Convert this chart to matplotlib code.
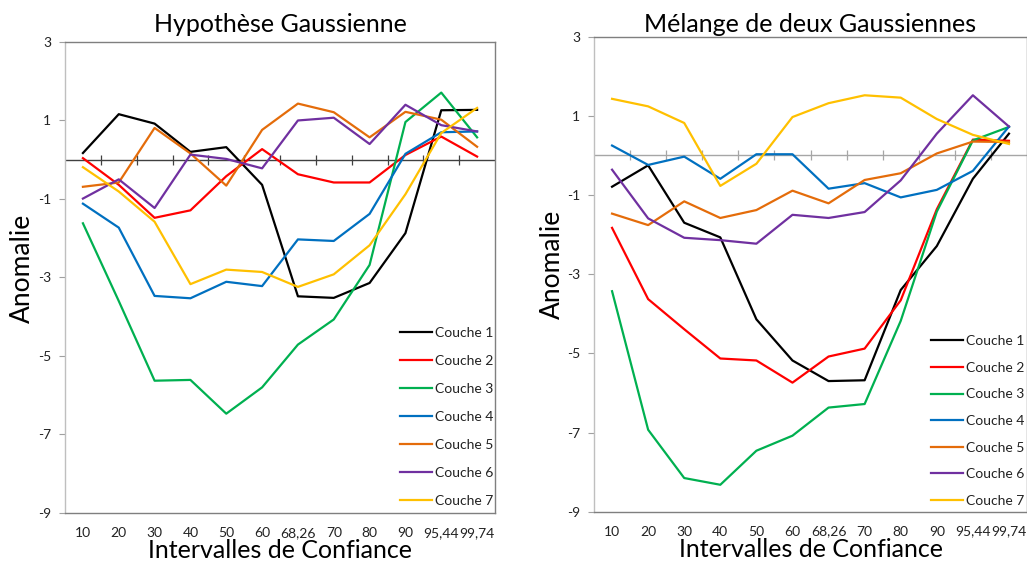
import matplotlib.pyplot as plt

# Confidence interval categories (x axis)
intervals = ["10", "20", "30", "40", "50", "60", "68,26", "70", "80", "90", "95,44", "99,74"]
layers = ["Couche 1", "Couche 2", "Couche 3", "Couche 4", "Couche 5", "Couche 6", "Couche 7"]
colors = ["#000000", "#FF0000", "#00B050", "#0070C0", "#E46C0A", "#7030A0", "#FFC000"]

# Anomaly per layer - gaussian hypothesis
gauss_c1 = [0.17, 1.16, 0.92, 0.20, 0.32, -0.64, -3.48, -3.52, -3.14, -1.87, 1.26, 1.27]
gauss_c2 = [0.04, -0.64, -1.48, -1.29, -0.42, 0.27, -0.37, -0.58, -0.58, 0.12, 0.59, 0.08]
gauss_c3 = [-1.62, -3.60, -5.63, -5.61, -6.47, -5.80, -4.71, -4.07, -2.68, 0.96, 1.71, 0.57]
gauss_c4 = [-1.12, -1.73, -3.47, -3.53, -3.11, -3.22, -2.03, -2.07, -1.38, 0.15, 0.70, 0.72]
gauss_c5 = [-0.69, -0.58, 0.81, 0.16, -0.66, 0.76, 1.43, 1.21, 0.57, 1.22, 1.02, 0.33]
gauss_c6 = [-0.99, -0.50, -1.23, 0.13, 0.02, -0.22, 1.00, 1.07, 0.40, 1.40, 0.88, 0.72]
gauss_c7 = [-0.19, -0.81, -1.58, -3.17, -2.80, -2.86, -3.24, -2.92, -2.18, -0.88, 0.68, 1.32]

# Anomaly per layer - mixture of two gaussians
mix_c1 = [-0.79, -0.25, -1.70, -2.07, -4.14, -5.18, -5.70, -5.68, -3.40, -2.29, -0.59, 0.55]
mix_c2 = [-1.83, -3.63, -4.39, -5.13, -5.18, -5.74, -5.08, -4.88, -3.66, -1.36, 0.40, 0.37]
mix_c3 = [-3.43, -6.93, -8.15, -8.32, -7.46, -7.08, -6.37, -6.28, -4.18, -1.42, 0.38, 0.72]
mix_c4 = [0.25, -0.24, -0.03, -0.59, 0.03, 0.03, -0.84, -0.70, -1.06, -0.87, -0.39, 0.73]
mix_c5 = [-1.47, -1.76, -1.16, -1.58, -1.38, -0.89, -1.21, -0.62, -0.45, 0.05, 0.35, 0.34]
mix_c6 = [-0.36, -1.59, -2.08, -2.14, -2.23, -1.50, -1.58, -1.43, -0.63, 0.55, 1.52, 0.73]
mix_c7 = [1.43, 1.24, 0.82, -0.77, -0.21, 0.97, 1.32, 1.52, 1.46, 0.92, 0.52, 0.29]

gauss = [gauss_c1, gauss_c2, gauss_c3, gauss_c4, gauss_c5, gauss_c6, gauss_c7]
mix = [mix_c1, mix_c2, mix_c3, mix_c4, mix_c5, mix_c6, mix_c7]

plt.rcParams['font.family'] = ['Lato', 'DejaVu Sans']
plt.rcParams['axes.unicode_minus'] = False

fig = plt.figure(figsize=(10.27, 5.61), dpi=100)
ax1 = fig.add_axes([0.0633, 0.0856, 0.4187, 0.8396])
ax2 = fig.add_axes([0.5784, 0.0879, 0.4216, 0.8467])


def draw_panel(ax, series, title, title_y, zero_color, ylabel_x, legend_anchor, spacing):
    x = list(range(len(intervals)))
    for vals, name, c in zip(series, layers, colors):
        ax.plot(x, vals, color=c, lw=1.6, label=name)

    # zero line with category separators crossing it
    ax.axhline(0, color=zero_color, lw=1.0, zorder=1)
    ax.plot([i + 0.5 for i in range(len(intervals) - 1)], [0] * (len(intervals) - 1),
            ls='none', marker='|', ms=7, mew=0.9, color=zero_color, zorder=1)

    ax.set_xlim(-0.5, len(intervals) - 0.5)
    ax.set_ylim(-9, 3)
    ax.set_xticks(x)
    ax.set_xticklabels(intervals)
    ax.set_yticks(range(-9, 4, 2))
    ax.tick_params(axis='x', length=0, labelsize=10, pad=10, colors='#222222')
    ax.tick_params(axis='y', length=4, width=0.8, color='#a0a0a0', labelsize=10,
                   pad=6, labelcolor='#222222')

    for side in ['top', 'right', 'bottom']:
        ax.spines[side].set_color('#7f7f7f')
        ax.spines[side].set_linewidth(1.0)
    ax.spines['left'].set_color('#bfbfbf')
    ax.spines['left'].set_linewidth(1.0)

    ax.set_xlabel('Intervalles de Confiance', fontsize=18, labelpad=0)
    ax.set_ylabel('Anomalie', fontsize=19)
    ax.yaxis.set_label_coords(ylabel_x, 0.52)
    ax.text(0.5, title_y, title, transform=ax.transAxes, ha='center',
            va='center', fontsize=18)

    ax.legend(loc='lower right', bbox_to_anchor=legend_anchor, frameon=False,
              fontsize=10, handlelength=2.3, handletextpad=0.2, labelspacing=spacing,
              labelcolor='#222222')


draw_panel(ax1, gauss, 'Hypothèse Gaussienne', 1.038, '#404040', -0.069,
           (1.025, -0.014), 1.15)
draw_panel(ax2, mix, 'Mélange de deux Gaussiennes', 1.025, '#a6a6a6', -0.067,
           (1.022, -0.016), 1.05)

fig.savefig('out.png', dpi=100)
